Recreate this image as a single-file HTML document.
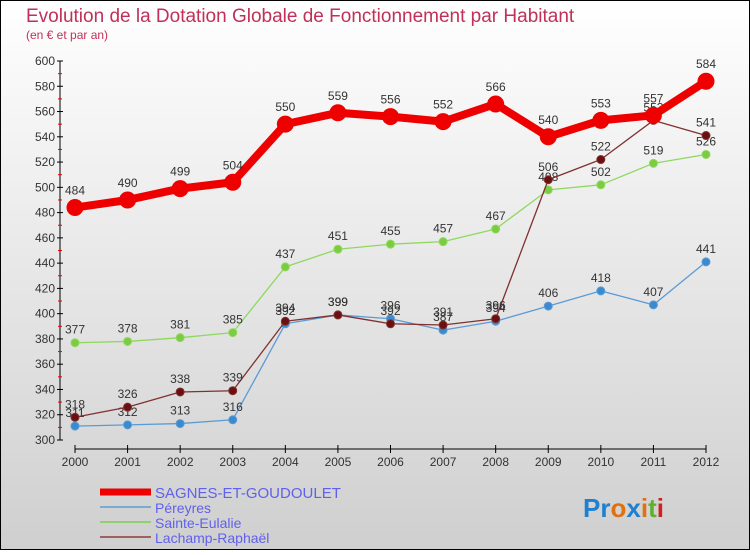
<!DOCTYPE html>
<html><head><meta charset="utf-8"><style>
html,body{margin:0;padding:0}
body{width:750px;height:550px;overflow:hidden;font-family:"Liberation Sans",sans-serif}
</style></head><body>
<svg id="chart" width="750" height="550" xmlns="http://www.w3.org/2000/svg">
<defs><linearGradient id="bg" x1="0" y1="0" x2="0" y2="1"><stop offset="0" stop-color="#ffffff"/><stop offset="1" stop-color="#cfcfcf"/></linearGradient></defs>
<rect x="0.5" y="0.5" width="749" height="549" fill="url(#bg)" stroke="#000"/>
<text x="26" y="22" font-size="19" fill="#c0305a">Evolution de la Dotation Globale de Fonctionnement par Habitant</text>
<text x="26" y="39" font-size="12" fill="#c0305a">(en € et par an)</text>
<g id="axes"></g><g id="series"></g><g id="legend"></g>
<text x="583" y="517" font-size="26" font-weight="bold"><tspan fill="#1f7fd0">Pr</tspan><tspan fill="#e07010">o</tspan><tspan fill="#1f7fd0">x</tspan><tspan fill="#e07010">i</tspan><tspan fill="#60b030">t</tspan><tspan fill="#d02020">i</tspan></text>
</svg>
<script>
const years=[2000,2001,2002,2003,2004,2005,2006,2007,2008,2009,2010,2011,2012];
const yTicks=[300,320,340,360,380,400,420,440,460,480,500,520,540,560,580,600];
const sagnes=[484,490,499,504,550,559,556,552,566,540,553,557,584];
const pereyres=[311,312,313,316,392,399,396,387,394,406,418,407,441];
const eulalie=[377,378,381,385,437,451,455,457,467,498,502,519,526];
const lachamp=[318,326,338,339,394,399,392,391,396,506,522,553,541];
const NS="http://www.w3.org/2000/svg";
function X(i){return 75+i*(706-75)/12;}
function Y(v){return 440-(v-300)*(440-61)/300;}
function mk(t,a,p){const e=document.createElementNS(NS,t);for(const k in a)e.setAttribute(k,a[k]);p.appendChild(e);return e;}
const ax=document.getElementById('axes');
mk('line',{x1:60,y1:Y(600),x2:60,y2:Y(300),stroke:'#000'},ax);
yTicks.forEach((v,i)=>{
 mk('line',{x1:57,y1:Y(v),x2:63,y2:Y(v),stroke:'#000'},ax);
 if(i<yTicks.length-1)mk('line',{x1:58,y1:Y(v+10),x2:62,y2:Y(v+10),stroke:'#e00'},ax);
 const t=mk('text',{x:55,y:Y(v)+4,'font-size':12,'text-anchor':'end',fill:'#333'},ax);
 
 
 t.textContent=v;
});
mk('line',{x1:75,y1:449,x2:706,y2:449,stroke:'#000'},ax);
years.forEach((y,i)=>{
 mk('line',{x1:X(i),y1:445,x2:X(i),y2:453,stroke:'#000'},ax);
 const t=mk('text',{x:X(i),y:466,'font-size':12,'text-anchor':'middle',fill:'#333'},ax);
 
 
 t.textContent=y;
});
const S=document.getElementById('series');
function draw(name,vals,col,dot,w,r){
 const g=mk('g',{},S);
 
 
 mk('polyline',{points:vals.map((v,i)=>X(i)+','+Y(v)).join(' '),fill:'none',stroke:col,'stroke-width':w,'stroke-linejoin':'round'},g);
 vals.forEach((v,i)=>{
  const c=mk('circle',{cx:X(i),cy:Y(v),r:r,fill:dot,stroke:col,'stroke-width':1},g);
  
  
  const t=mk('text',{x:X(i),y:Y(v)-r-5,'font-size':12,'text-anchor':'middle',fill:'#333'},g);
  
  
  t.textContent=v;
 });
}
draw('series-pereyres',pereyres,'#5b9bd5','#3a8ad0',1.3,4);
draw('series-sainte-eulalie',eulalie,'#8fd860','#7ccc40',1.3,4);
draw('series-lachamp-raphael',lachamp,'#803030','#6a1010',1.3,4);
draw('series-sagnes',sagnes,'#ee0000','#ee0000',8,8);
const L=document.getElementById('legend');
const leg=[['SAGNES-ET-GOUDOULET','#ee0000',7],['Péreyres','#7aaad0',2],['Sainte-Eulalie','#90d070',2],['Lachamp-Raphaël','#a06060',2]];
leg.forEach((l,i)=>{
 const y=492+i*15;
 const g=mk('g',{},L);
 
 
 mk('line',{x1:100,y1:y,x2:151,y2:y,stroke:l[1],'stroke-width':l[2]},g);
 const t=mk('text',{x:155,y:y+6,'font-size':i==0?15:14,fill:'#6060ee'},g);
 t.textContent=l[0];
});
</script>
</body></html>
